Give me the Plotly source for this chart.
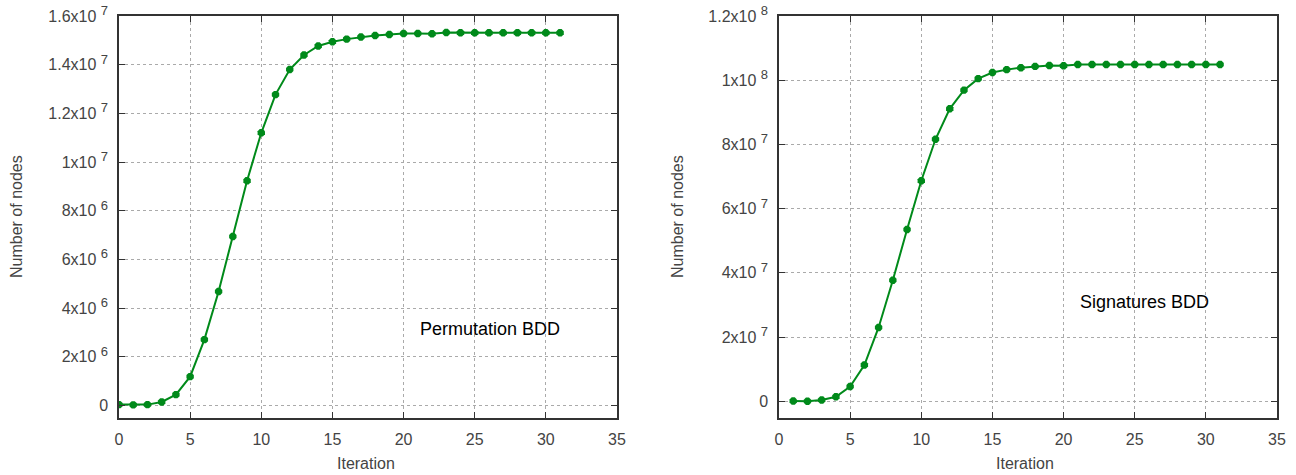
import plotly.graph_objects as go

# ---- data ----
perm_iter = list(range(0, 32))
perm_nodes = [3e4, 2e4, 3e4, 1.4e5, 4.4e5, 1.18e6, 2.7e6, 4.68e6, 6.94e6, 9.23e6,
              1.12e7, 1.277e7, 1.38e7, 1.44e7, 1.477e7, 1.494e7, 1.505e7, 1.514e7,
              1.52e7, 1.524e7, 1.528e7, 1.528e7, 1.527e7, 1.532e7, 1.531e7, 1.531e7,
              1.531e7, 1.531e7, 1.531e7, 1.531e7, 1.531e7, 1.531e7]

sig_iter = list(range(1, 32))
sig_nodes = [1e5, 0, 4e5, 1.4e6, 4.6e6, 1.13e7, 2.3e7, 3.77e7, 5.35e7, 6.87e7,
             8.16e7, 9.11e7, 9.69e7, 1.005e8, 1.024e8, 1.033e8, 1.039e8, 1.043e8,
             1.046e8, 1.045e8, 1.049e8, 1.049e8, 1.049e8, 1.049e8, 1.049e8, 1.049e8,
             1.049e8, 1.049e8, 1.049e8, 1.049e8, 1.049e8]

x_ticks = [0, 5, 10, 15, 20, 25, 30, 35]
perm_yticks = [0, 2e6, 4e6, 6e6, 8e6, 1e7, 1.2e7, 1.4e7, 1.6e7]
perm_ymant = ["0", "2", "4", "6", "8", "1", "1.2", "1.4", "1.6"]
perm_yexp = [None, 6, 6, 6, 6, 7, 7, 7, 7]
sig_yticks = [0, 2e7, 4e7, 6e7, 8e7, 1e8, 1.2e8]
sig_ymant = ["0", "2", "4", "6", "8", "1", "1.2"]
sig_yexp = [None, 7, 7, 7, 7, 8, 8]


def sci_labels(mant, exps):
    out = []
    for m, e in zip(mant, exps):
        if e is None:
            out.append(m)
        else:
            out.append(f"{m}x10 <sup><span style='font-size:13px'>{e}</span></sup>")
    return out


perm_ytext = sci_labels(perm_ymant, perm_yexp)
sig_ytext = sci_labels(sig_ymant, sig_yexp)

GREEN = "#008a1a"
FONT = "Liberation Sans, Arial, sans-serif"

fig = go.Figure()
fig.add_trace(go.Scatter(x=perm_iter, y=perm_nodes, mode="lines+markers",
                         line=dict(color=GREEN, width=2),
                         marker=dict(color=GREEN, size=8, symbol="octagon"),
                         xaxis="x", yaxis="y", showlegend=False))
fig.add_trace(go.Scatter(x=sig_iter, y=sig_nodes, mode="lines+markers",
                         line=dict(color=GREEN, width=2),
                         marker=dict(color=GREEN, size=8, symbol="octagon"),
                         xaxis="x2", yaxis="y2", showlegend=False))

W, H = 1296, 475
def px(x):
    return x / W
def py(y):
    return 1 - y / H

axis_common = dict(
    automargin=False,
    showline=True, mirror="allticks", linecolor="#333333", linewidth=1.5,
    ticks="inside", ticklen=6, tickcolor="#333333", tickwidth=1,
    showgrid=True, gridcolor="#aaaaaa", griddash="dot", gridwidth=1,
    zeroline=False,
    tickfont=dict(family=FONT, size=16, color="#444444"),
)

fig.update_layout(
    width=W, height=H,
    margin=dict(l=0, r=0, t=0, b=0, autoexpand=False),
    paper_bgcolor="white", plot_bgcolor="white",
    font=dict(family=FONT),
    xaxis=dict(domain=[px(119), px(617)], range=[0, 35], tickvals=x_ticks,
               anchor="y", ticklabelstandoff=6, **axis_common),
    yaxis=dict(domain=[py(418), py(16)], range=[-5.2e5, 1.6e7],
               tickvals=perm_yticks, ticktext=perm_ytext, anchor="x",
               ticklabelstandoff=6, **axis_common),
    xaxis2=dict(domain=[px(779), px(1277)], range=[0, 35], tickvals=x_ticks,
                anchor="y2", ticklabelstandoff=6, **axis_common),
    yaxis2=dict(domain=[py(418), py(16)], range=[-5.2e6, 1.2e8],
                tickvals=sig_yticks, ticktext=sig_ytext, anchor="x2",
                ticklabelstandoff=6, **axis_common),
)

ann = [
    dict(text="Number of nodes", x=px(16), y=py(217), textangle=-90),
    dict(text="Iteration", x=px(366), y=py(463)),
    dict(text="Number of nodes", x=px(677), y=py(217), textangle=-90),
    dict(text="Iteration", x=px(1025), y=py(463)),
]
for a in ann:
    fig.add_annotation(xref="paper", yref="paper", showarrow=False,
                       xanchor="center", yanchor="middle",
                       font=dict(family=FONT, size=16, color="#444444"), **a)

fig.add_annotation(xref="paper", yref="paper", x=px(490), y=py(329), showarrow=False,
                   xanchor="center", yanchor="middle",
                   text="Permutation BDD", font=dict(family=FONT, size=18, color="black"))
fig.add_annotation(xref="paper", yref="paper", x=px(1144), y=py(302), showarrow=False,
                   xanchor="center", yanchor="middle",
                   text="Signatures BDD", font=dict(family=FONT, size=18, color="black"))

fig.write_html("out.html")
